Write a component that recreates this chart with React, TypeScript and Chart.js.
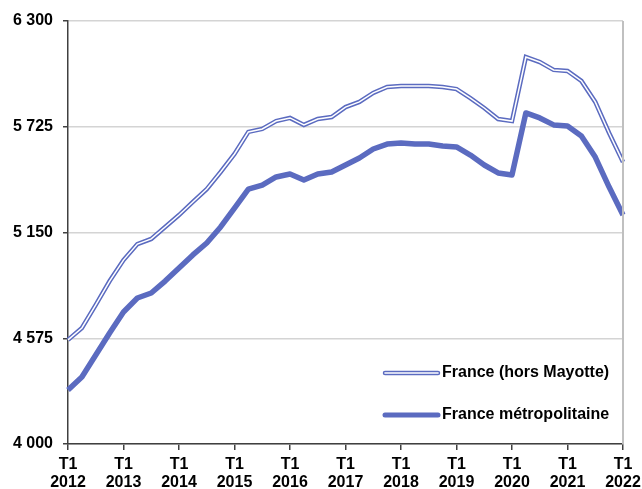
import React, { useEffect, useRef } from "react";
import { Chart, registerables } from "chart.js";

Chart.register(...registerables);

const quarters: string[] = [
  "T1 2012", "T2 2012", "T3 2012", "T4 2012",
  "T1 2013", "T2 2013", "T3 2013", "T4 2013",
  "T1 2014", "T2 2014", "T3 2014", "T4 2014",
  "T1 2015", "T2 2015", "T3 2015", "T4 2015",
  "T1 2016", "T2 2016", "T3 2016", "T4 2016",
  "T1 2017", "T2 2017", "T3 2017", "T4 2017",
  "T1 2018", "T2 2018", "T3 2018", "T4 2018",
  "T1 2019", "T2 2019", "T3 2019", "T4 2019",
  "T1 2020", "T2 2020", "T3 2020", "T4 2020",
  "T1 2021", "T2 2021", "T3 2021", "T4 2021",
  "T1 2022",
];

const franceHorsMayotte: number[] = [
  4566, 4631, 4756, 4886, 5000, 5087, 5115, 5180, 5245, 5316, 5386, 5479,
  5577, 5697, 5713, 5756, 5773, 5735, 5767, 5778, 5832, 5860, 5909, 5941,
  5947, 5947, 5947, 5941, 5930, 5881, 5827, 5767, 5756, 6104, 6077, 6034,
  6028, 5974, 5860, 5691, 5533,
];

const franceMetropolitaine: number[] = [
  4294, 4364, 4484, 4604, 4718, 4794, 4821, 4886, 4957, 5028, 5093, 5180,
  5283, 5386, 5408, 5452, 5468, 5435, 5468, 5479, 5517, 5555, 5604, 5631,
  5637, 5631, 5631, 5620, 5615, 5571, 5517, 5474, 5463, 5800, 5773, 5735,
  5729, 5675, 5560, 5397, 5245,
];

const yTicks: number[] = [4000, 4575, 5150, 5725, 6300];
const legendLabels: string[] = ["France (hors Mayotte)", "France métropolitaine"];

const BLUE = "#5b6bc0";
const FONT = "Arial, 'Liberation Sans', sans-serif";

const formatThousands = (v: number) =>
  String(Math.round(v)).replace(/\B(?=(\d{3})+(?!\d))/g, " ");

export default function App() {
  const ref = useRef<HTMLCanvasElement | null>(null);

  useEffect(() => {
    if (!ref.current) return;

    const frame = {
      id: "frameAndLegend",
      afterDraw(chart: any) {
        const { ctx, chartArea } = chart;
        ctx.save();
        // right border
        ctx.strokeStyle = "#c0c0c0";
        ctx.lineWidth = 2;
        ctx.beginPath();
        ctx.moveTo(chartArea.right, chartArea.top);
        ctx.lineTo(chartArea.right, chartArea.bottom);
        ctx.stroke();

        // legend
        const x0 = 385;
        const x1 = 438;
        const ys = [373, 415];
        ctx.lineCap = "round";
        ctx.strokeStyle = BLUE;
        ctx.lineWidth = 4.5;
        ctx.beginPath();
        ctx.moveTo(x0, ys[0]);
        ctx.lineTo(x1, ys[0]);
        ctx.stroke();
        ctx.strokeStyle = "#ffffff";
        ctx.lineWidth = 1.6;
        ctx.beginPath();
        ctx.moveTo(x0, ys[0]);
        ctx.lineTo(x1, ys[0]);
        ctx.stroke();
        ctx.strokeStyle = BLUE;
        ctx.lineWidth = 5;
        ctx.beginPath();
        ctx.moveTo(x0, ys[1]);
        ctx.lineTo(x1, ys[1]);
        ctx.stroke();

        ctx.fillStyle = "#000000";
        ctx.font = `bold 16px ${FONT}`;
        ctx.textAlign = "left";
        ctx.textBaseline = "middle";
        ctx.fillText(legendLabels[0], 442, ys[0]);
        ctx.fillText(legendLabels[1], 442, ys[1]);
        ctx.restore();
      },
    };

    const chart = new Chart(ref.current, {
      type: "line",
      data: {
        labels: quarters,
        datasets: [
          {
            label: legendLabels[0],
            data: franceHorsMayotte,
            borderColor: BLUE,
            borderWidth: 4.5,
            pointRadius: 0,
            tension: 0,
            fill: false,
            order: 2,
          },
          {
            label: legendLabels[0] + " (inner)",
            data: franceHorsMayotte,
            borderColor: "#ffffff",
            borderWidth: 1.5,
            pointRadius: 0,
            tension: 0,
            fill: false,
            order: 1,
          },
          {
            label: legendLabels[1],
            data: franceMetropolitaine,
            borderColor: BLUE,
            borderWidth: 5.5,
            borderJoinStyle: "round",
            pointRadius: 0,
            tension: 0,
            fill: false,
            order: 3,
          },
        ],
      },
      options: {
        responsive: false,
        animation: false,
        events: [],
        layout: { padding: { left: 0, top: 21, right: 19, bottom: 0 } },
        plugins: {
          legend: { display: false },
          tooltip: { enabled: false },
          title: { display: false },
        },
        scales: {
          x: {
            type: "category",
            offset: false,
            grid: {
              display: true,
              drawOnChartArea: false,
              drawTicks: true,
              tickLength: 6,
              color: "#404040",
              lineWidth: 1.5,
            },
            border: { display: true, color: "#404040", width: 1.5 },
            ticks: {
              autoSkip: false,
              maxRotation: 0,
              minRotation: 0,
              padding: 6,
              color: "#000000",
              font: { family: FONT, size: 16, weight: "bold", lineHeight: "18px" },
              callback: (_v: any, i: number) => {
                const q = quarters[i];
                if (!q || !q.startsWith("T1")) return null;
                const parts = q.split(" ");
                return [parts[0], parts[1]];
              },
            },
            afterFit: (scale: any) => {
              scale.height = 45;
              scale.paddingRight = 0;
              scale.paddingLeft = 0;
            },
          },
          y: {
            min: 4000,
            max: 6300,
            afterBuildTicks: (scale: any) => {
              scale.ticks = yTicks.map((v) => ({ value: v }));
            },
            grid: {
              color: "#d4d4d4",
              lineWidth: 1.5,
              drawTicks: true,
              tickLength: 5,
              tickColor: "#404040",
            },
            border: { display: true, color: "#404040", width: 1.5 },
            ticks: {
              padding: 10,
              color: "#000000",
              font: { family: FONT, size: 16, weight: "bold" },
              callback: (v: any) => formatThousands(Number(v)),
            },
            afterFit: (scale: any) => {
              scale.width = 68;
              scale.paddingTop = 0;
              scale.paddingBottom = 0;
            },
          },
        },
      },
      plugins: [frame],
    } as any);

    return () => chart.destroy();
  }, []);

  return (
    <div style={{ position: "absolute", left: 0, top: 0, width: 642, height: 489, background: "#ffffff" }}>
      <canvas ref={ref} width={642} height={489} style={{ display: "block" }} />
    </div>
  );
}
